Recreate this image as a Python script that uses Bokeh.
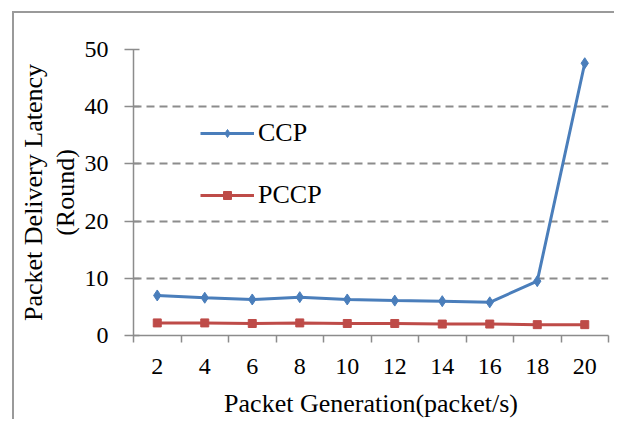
from bokeh.plotting import figure
from bokeh.models import (Range1d, FixedTicker, Legend, LegendItem)
from bokeh.embed import file_html
from bokeh.resources import INLINE

# ---- data ----
rates = [2, 4, 6, 8, 10, 12, 14, 16, 18, 20]
tick_labels = ["2", "4", "6", "8", "10", "12", "14", "16", "18", "20"]
ccp = [7.0, 6.6, 6.3, 6.7, 6.3, 6.1, 6.0, 5.8, 9.5, 47.6]
pccp = [2.2, 2.2, 2.1, 2.2, 2.1, 2.1, 2.0, 2.0, 1.9, 1.9]
y_ticks = [0, 10, 20, 30, 40, 50]
series_names = ["CCP", "PCCP"]

FONT = "Liberation Serif"
AXIS_GRAY = "#8c8c8c"

p = figure(width=602, height=408, output_backend="svg", toolbar_location=None,
           x_range=Range1d(rates[0] - 1, rates[-1] + 1), y_range=Range1d(0, 50),
           min_border_left=119, min_border_top=36, min_border_right=8,
           min_border_bottom=86)
p.outline_line_color = None
p.background_fill_color = "white"
p.border_fill_color = "white"
p.margin = (11, 0, 0, 12)
p.styles = {"border-left": "2px solid #9a9a9a", "border-top": "2px solid #9a9a9a"}

# x axis: labels at categories, tick marks between categories
bounds = [r - 1 for r in rates] + [rates[-1] + 1]
p.xaxis.ticker = FixedTicker(ticks=rates, minor_ticks=bounds)
p.xaxis.major_label_overrides = {r: t for r, t in zip(rates, tick_labels)}
p.xaxis.major_tick_line_color = None
p.xaxis.major_tick_out = 7
p.xaxis.major_tick_in = 0
p.xaxis.minor_tick_line_color = AXIS_GRAY
p.xaxis.minor_tick_line_width = 1.5
p.xaxis.minor_tick_out = 7
p.xaxis.minor_tick_in = 0
p.xaxis.major_label_standoff = 16
p.xaxis.axis_label = "Packet Generation(packet/s)"
p.xaxis.axis_label_standoff = 12

p.yaxis.ticker = FixedTicker(ticks=y_ticks)
p.yaxis.minor_tick_line_color = None
p.yaxis.major_tick_out = 9
p.yaxis.major_tick_in = 6
p.yaxis.major_tick_line_color = AXIS_GRAY
p.yaxis.major_tick_line_width = 1.5
p.yaxis.major_label_standoff = 16
p.yaxis.axis_label = "Packet Delivery Latency\n(Round)"
p.yaxis.axis_label_standoff = 2
p.yaxis.axis_label_text_line_height = 1.1

for ax in (p.xaxis, p.yaxis):
    ax.axis_line_color = AXIS_GRAY
    ax.axis_line_width = 1.5
    ax.major_label_text_font = FONT
    ax.major_label_text_font_size = "24px"
    ax.major_label_text_color = "black"
    ax.axis_label_text_font = FONT
    ax.axis_label_text_font_size = "26px"
    ax.axis_label_text_font_style = "normal"
    ax.axis_label_text_color = "black"

p.xgrid.grid_line_color = None
p.ygrid.grid_line_color = AXIS_GRAY
p.ygrid.grid_line_width = 2
p.ygrid.grid_line_dash = "8 5"

blue = "#4a7ebb"
red = "#be4b48"
l1 = p.line(rates, ccp, line_color=blue, line_width=3)
m1 = p.scatter(rates, ccp, marker="diamond", size=11, fill_color=blue, line_color=blue)
l2 = p.line(rates, pccp, line_color=red, line_width=3)
m2 = p.scatter(rates, pccp, marker="square", size=8, fill_color=red, line_color=red)

legend = Legend(items=[LegendItem(label=series_names[0], renderers=[l1, m1]),
                       LegendItem(label=series_names[1], renderers=[l2, m2])],
                location=(67, 125), orientation="vertical",
                label_text_font=FONT, label_text_font_size="26px",
                label_text_color="black", glyph_width=54, glyph_height=20,
                label_standoff=4, spacing=32, padding=0, margin=0,
                border_line_color=None, background_fill_alpha=0)
p.add_layout(legend)

open("out.html", "w").write(file_html(p, INLINE))
